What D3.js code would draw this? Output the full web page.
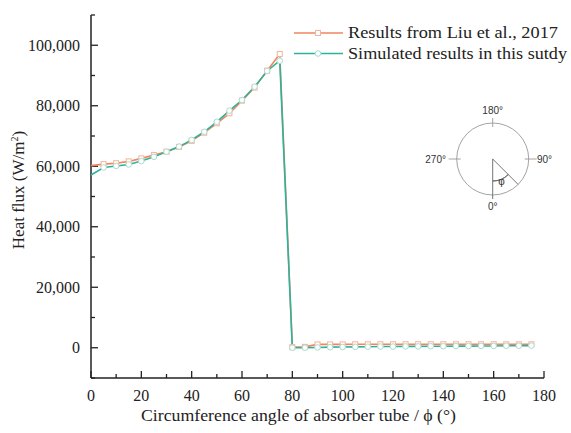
<!DOCTYPE html>
<html><head><meta charset="utf-8">
<script src="https://cdn.jsdelivr.net/npm/d3@7"></script>
<style>
html,body{margin:0;padding:0;background:#fff;}
svg{display:block;}
</style>
</head><body>
<svg id="chart" width="571" height="433"></svg>
<script>
const angles = [0,5,10,15,20,25,30,35,40,45,50,55,60,65,70,75,80,85,90,95,100,105,110,115,120,125,130,135,140,145,150,155,160,165,170,175];
const liuValues = [60200,60700,61000,61600,62600,63700,64800,66400,68400,71100,74200,77500,81700,86000,91600,97100,200,300,1100,1100,1100,1150,1150,1150,1150,1150,1150,1150,1150,1150,1150,1150,1150,1150,1150,1150];
const simValues = [57100,59600,60100,60600,61700,63100,64800,66500,68700,71400,74700,78400,81900,86300,91500,94900,0,0,100,200,250,300,350,400,400,450,450,500,500,550,550,600,600,650,650,700];
const xTicks = [0,20,40,60,80,100,120,140,160,180];
const yTicks = [0,20000,40000,60000,80000,100000];
const seriesNames = ["Results from Liu et al., 2017","Simulated results in this sutdy"];
const colors = ["#F2855F","#2DB39B"];
const markerStroke = ["#F4B39C","#A9DCD0"];

const svg = d3.select("#chart");
const serif = "'Liberation Serif','Times New Roman',serif";
const x = d3.scaleLinear().domain([0,180]).range([91,544]);
const y = d3.scaleLinear().domain([-10000,110000]).range([378,15]);

// axes
const xAxis = svg.append("g").attr("transform","translate(0,378)");
xAxis.append("line").attr("x1",91).attr("x2",544).attr("stroke","#222").attr("stroke-width",1.5);
const xMinor = d3.range(0,181,10);
xAxis.selectAll("line.t").data(xMinor).enter().append("line")
  .attr("x1",d=>x(d)).attr("x2",d=>x(d)).attr("y1",0).attr("y2",d=>d%20===0?-7:-4)
  .attr("stroke","#222").attr("stroke-width",1.3);
xAxis.selectAll("text").data(xTicks).enter().append("text")
  .attr("x",d=>x(d)).attr("y",22.5).attr("text-anchor","middle")
  .attr("font-family",serif).attr("font-size",16).attr("fill","#222").text(d=>d);

const yAxis = svg.append("g").attr("transform","translate(91,0)");
yAxis.append("line").attr("y1",15).attr("y2",378).attr("stroke","#222").attr("stroke-width",1.5);
const yMinor = d3.range(-10000,110001,10000);
yAxis.selectAll("line.t").data(yMinor).enter().append("line")
  .attr("y1",d=>y(d)).attr("y2",d=>y(d)).attr("x1",0).attr("x2",d=>d%20000===0?7:4)
  .attr("stroke","#222").attr("stroke-width",1.3);
yAxis.selectAll("text").data(yTicks).enter().append("text")
  .attr("x",-11).attr("y",d=>y(d)+5.5).attr("text-anchor","end")
  .attr("font-family",serif).attr("font-size",16).attr("fill","#222").text(d3.format(","));

// axis titles
svg.append("text").attr("transform","translate(24,190) rotate(-90)").attr("text-anchor","middle")
  .attr("font-family",serif).attr("font-size",17).attr("fill","#222")
  .html('Heat flux (W/m<tspan dy="-6" font-size="10">2</tspan><tspan dy="6">)</tspan>');
svg.append("text").attr("x",298.5).attr("y",421).attr("text-anchor","middle")
  .attr("font-family",serif).attr("font-size",17).attr("fill","#222")
  .attr("textLength",315).attr("lengthAdjust","spacingAndGlyphs")
  .text("Circumference angle of absorber tube / ϕ (°)");

// series
const line = d3.line().x(d=>x(d[0])).y(d=>y(d[1]));
[liuValues, simValues].forEach((vals,i)=>{
  const pts = angles.map((a,j)=>[a,vals[j]]);
  svg.append("path").datum(pts).attr("d",line).attr("fill","none")
    .attr("stroke",colors[i]).attr("stroke-width",1.6);
});
[liuValues, simValues].forEach((vals,i)=>{
  const pts = angles.map((a,j)=>[a,vals[j]]).filter(d=>d[0]>0);
  const g = svg.append("g");
  if(i===0){
    g.selectAll("rect").data(pts).enter().append("rect")
      .attr("x",d=>x(d[0])-2.5).attr("y",d=>y(d[1])-2.5).attr("width",5).attr("height",5)
      .attr("fill","#fff").attr("stroke",markerStroke[i]).attr("stroke-width",1);
  } else {
    g.selectAll("circle").data(pts).enter().append("circle")
      .attr("cx",d=>x(d[0])).attr("cy",d=>y(d[1])).attr("r",2.8)
      .attr("fill","#fff").attr("stroke",markerStroke[i]).attr("stroke-width",1);
  }
});

// legend
const leg = svg.append("g");
const legWidths = [210,219];
seriesNames.forEach((name,i)=>{
  const ly = 33 + i*20.5;
  leg.append("line").attr("x1",294).attr("x2",343).attr("y1",ly).attr("y2",ly)
    .attr("stroke",colors[i]).attr("stroke-width",1.6);
  if(i===0) leg.append("rect").attr("x",315.5).attr("y",ly-2.5).attr("width",5).attr("height",5)
    .attr("fill","#fff").attr("stroke",markerStroke[i]);
  else leg.append("circle").attr("cx",318).attr("cy",ly).attr("r",2.8)
    .attr("fill","#fff").attr("stroke",markerStroke[i]);
  leg.append("text").attr("x",348).attr("y",ly+5).attr("font-family",serif)
    .attr("font-size",17).attr("fill","#222")
    .attr("textLength",legWidths[i]).attr("lengthAdjust","spacingAndGlyphs").text(name);
});

// inset diagram
const cx = 492.7, cy = 159, r = 36;
const ins = svg.append("g").attr("stroke","#999").attr("fill","none").attr("stroke-width",0.9);
ins.append("circle").attr("cx",cx).attr("cy",cy).attr("r",r);
ins.append("line").attr("x1",cx).attr("x2",cx).attr("y1",cy-r-5).attr("y2",cy-r+4);
ins.append("line").attr("x1",cx-r-8).attr("x2",cx-r+4).attr("y1",cy).attr("y2",cy);
ins.append("line").attr("x1",cx+r-4).attr("x2",cx+r+8).attr("y1",cy).attr("y2",cy);
ins.append("line").attr("x1",cx).attr("x2",cx).attr("y1",cy).attr("y2",cy+r+4).attr("stroke","#666");
const a45 = Math.PI/4;
ins.append("line").attr("x1",cx).attr("y1",cy).attr("x2",cx+r*Math.sin(a45)).attr("y2",cy+r*Math.cos(a45)).attr("stroke","#666");
const arc = d3.arc().innerRadius(22).outerRadius(22).startAngle(Math.PI*3/4).endAngle(Math.PI);
ins.append("path").attr("d",arc()).attr("transform",`translate(${cx},${cy})`).attr("stroke","#666");
const sans = "'Liberation Sans',Arial,sans-serif";
const lab = svg.append("g").attr("font-family",sans).attr("font-size",10).attr("fill","#333");
lab.append("text").attr("x",cx).attr("y",114).attr("text-anchor","middle").text("180°");
lab.append("text").attr("x",446).attr("y",cy+3.5).attr("text-anchor","end").text("270°");
lab.append("text").attr("x",537).attr("y",cy+3.5).text("90°");
lab.append("text").attr("x",cx).attr("y",cy+r+15).attr("text-anchor","middle").text("0°");
lab.append("text").attr("x",501.5).attr("y",cy+26).attr("text-anchor","middle").text("φ");
</script>
</body></html>
